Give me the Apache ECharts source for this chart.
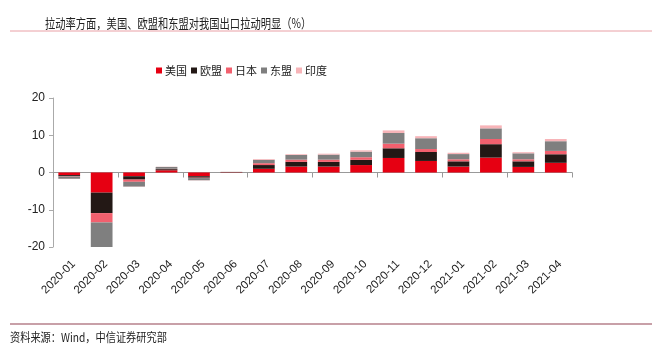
<!DOCTYPE html>
<html>
  <head>
    <meta charset="utf-8" />
    <title>ECharts</title>
    <script src="https://cdn.jsdelivr.net/npm/echarts@6/dist/echarts.min.js"></script>
    <style>
      body { margin: 0; background: #fff; }
    </style>
  </head>
  <body>
    <div id="main" style="width: 663px;height:354px;"></div>
    <script type="text/javascript">
const months = ['2020-01', '2020-02', '2020-03', '2020-04', '2020-05', '2020-06', '2020-07', '2020-08',
  '2020-09', '2020-10', '2020-11', '2020-12', '2021-01', '2021-02', '2021-03', '2021-04'];
const usa   = [-0.7, -5.4, -1.0, 0.6, -1.0, -0.1, 1.0, 1.6, 1.6, 2.0, 3.9, 3.1, 1.6, 4.0, 1.5, 2.6];
const eu    = [-0.3, -5.5, -0.9, 0.3, -0.4, 0.05, 1.0, 1.25, 1.25, 1.4, 2.6, 2.4, 1.4, 3.6, 1.5, 2.3];
const japan = [-0.1, -2.5, -0.6, 0.1, -0.1, 0.02, 0.5, 0.6, 0.6, 0.7, 1.25, 0.8, 0.55, 1.4, 0.55, 0.9];
const asean = [-0.6, -6.6, -1.3, 0.5, -0.6, 0.1, 0.9, 1.25, 1.35, 1.5, 2.85, 2.9, 1.4, 2.85, 1.6, 2.6];
const india = [-0.05, 0, -0.05, 0.05, -0.05, 0.02, 0.2, 0.2, 0.25, 0.35, 0.7, 0.55, 0.35, 0.8, 0.3, 0.6];
const seriesNames = ['美国', '欧盟', '日本', '东盟', '印度'];
const colors = ['#e60012', '#231815', '#f2606e', '#7f7f7f', '#f7b4b8'];

var chartDom = document.getElementById('main');
var myChart = echarts.init(chartDom);

const cjk = '"Noto Sans CJK SC", sans-serif';
const latin = '"Liberation Sans", Arial, sans-serif';

function makeSeries(name, data, i) {
  return {
    name: name,
    type: 'bar',
    stack: 'total',
    xAxisIndex: 0,
    barCategoryGap: '33%',
    data: data,
    itemStyle: { color: colors[i] }
  };
}

var option = {
  animation: false,
  color: colors,
  grid: { left: 53, right: 91, top: 98, bottom: 107 },
  graphic: [
    {
      type: 'text', x: 45, y: 23, scaleX: 0.79,
      style: { text: '拉动率方面，美国、欧盟和东盟对我国出口拉动明显（%）', font: '13px ' + cjk, fill: '#222', verticalAlign: 'middle' }
    },
    {
      type: 'line', shape: { x1: 10, y1: 31, x2: 652, y2: 31 },
      style: { stroke: '#e9a0a6', lineWidth: 1 }
    },
    {
      type: 'line', shape: { x1: 10, y1: 324, x2: 652, y2: 324 },
      style: { stroke: '#c8a0a8', lineWidth: 2 }
    },
    {
      type: 'text', x: 10, y: 337, scaleX: 0.85,
      style: { text: '资料来源：Wind，中信证券研究部', font: '12px ' + cjk, fill: '#222', verticalAlign: 'middle' }
    }
  ],
  legend: {
    left: 151,
    top: 60,
    itemWidth: 6,
    itemHeight: 6,
    itemGap: 4,
    icon: 'rect',
    textStyle: { fontFamily: cjk, fontSize: 11, color: '#222', padding: [0, 0, 0, -2] },
    data: seriesNames
  },
  xAxis: [
    {
      type: 'category',
      data: months,
      axisLine: { onZero: true, lineStyle: { color: '#999' } },
      axisTick: { show: true, lineStyle: { color: '#999' } },
      axisLabel: { show: false }
    },
    {
      type: 'category',
      data: months,
      position: 'bottom',
      axisLine: { show: false, onZero: false },
      axisTick: { show: false },
      axisLabel: {
        rotate: 45,
        margin: 11,
        interval: 0,
        verticalAlign: 'top',
        fontFamily: latin,
        fontSize: 11.5,
        color: '#222'
      }
    }
  ],
  yAxis: {
    type: 'value',
    min: -20,
    max: 20,
    interval: 10,
    axisLine: { show: true, lineStyle: { color: '#aaa' } },
    axisTick: { show: true, length: 4, lineStyle: { color: '#aaa' } },
    splitLine: { show: false },
    axisLabel: { fontFamily: latin, fontSize: 12, color: '#222', margin: 8 }
  },
  series: [
    makeSeries(seriesNames[0], usa, 0),
    makeSeries(seriesNames[1], eu, 1),
    makeSeries(seriesNames[2], japan, 2),
    makeSeries(seriesNames[3], asean, 3),
    makeSeries(seriesNames[4], india, 4)
  ]
};

option && myChart.setOption(option);
    </script>
  </body>
</html>
